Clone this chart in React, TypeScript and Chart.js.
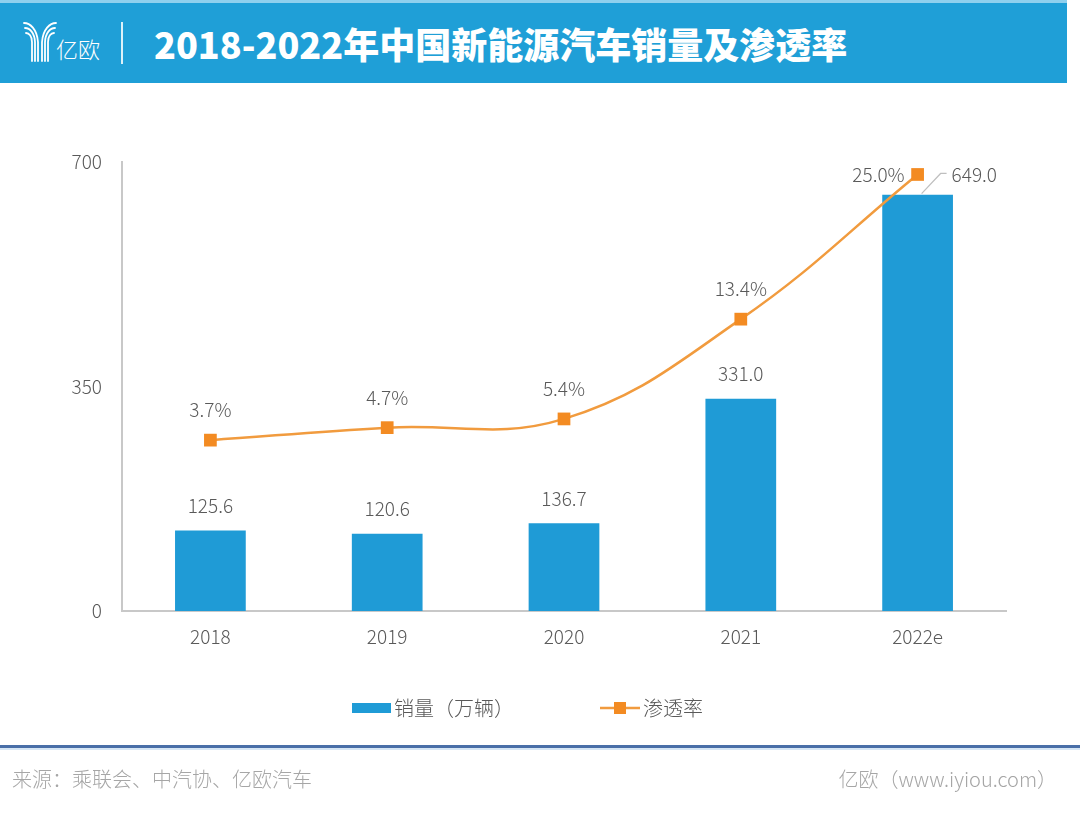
import React, { useEffect, useRef } from "react";
import { Chart, registerables } from "chart.js";

Chart.register(...registerables);

const categories = ["2018", "2019", "2020", "2021", "2022e"];
const salesValues = [125.6, 120.6, 136.7, 331.0, 649.0];
const rateValues = [3.7, 4.7, 5.4, 13.4, 25.0];
const yTicks = [0, 350, 700];
const salesLabel = "销量（万辆）";
const rateLabel = "渗透率";
const titleText = "2018-2022年中国新能源汽车销量及渗透率";
const sourceText = "来源：乘联会、中汽协、亿欧汽车";
const brandText = "亿欧（www.iyiou.com）";

const FONT = '"Noto Sans CJK SC", "Noto Sans", sans-serif';
const BAR = "#1F9BD6";
const LINE = "#F19B3E";
const MARK = "#F38B22";
const TXT = "#595959";

const labelPlugin = {
  id: "labels",
  afterDatasetsDraw(chart: any) {
    const ctx = chart.ctx;
    const barMeta = chart.getDatasetMeta(1);
    const lineMeta = chart.getDatasetMeta(0);
    ctx.save();
    ctx.font = `300 19px ${FONT}`;
    ctx.fillStyle = TXT;
    ctx.textBaseline = "middle";
    const n = categories.length;
    barMeta.data.forEach((el: any, i: number) => {
      const v = salesValues[i].toFixed(1);
      if (i === n - 1) {
        const py = lineMeta.data[i].y;
        ctx.strokeStyle = "#BFBFBF";
        ctx.lineWidth = 1.2;
        ctx.beginPath();
        ctx.moveTo(el.x + 4, el.y - 1);
        ctx.lineTo(el.x + 23, py - 1);
        ctx.lineTo(el.x + 29, py - 1);
        ctx.stroke();
        ctx.textAlign = "left";
        ctx.fillText(v, el.x + 34, py);
      } else {
        ctx.textAlign = "center";
        ctx.fillText(v, el.x, el.y - 25);
      }
    });
    lineMeta.data.forEach((el: any, i: number) => {
      const v = rateValues[i].toFixed(1) + "%";
      if (i === n - 1) {
        ctx.textAlign = "right";
        ctx.fillText(v, el.x - 13, el.y);
      } else {
        ctx.textAlign = "center";
        ctx.fillText(v, el.x, el.y - 30);
      }
    });
    ctx.restore();
  },
  afterDraw(chart: any) {
    const ctx = chart.ctx;
    ctx.save();
    ctx.font = `300 20px ${FONT}`;
    ctx.fillStyle = TXT;
    ctx.textBaseline = "middle";
    ctx.textAlign = "left";
    const ly = 708;
    ctx.fillStyle = BAR;
    ctx.fillRect(352, ly - 5, 39, 10);
    ctx.fillStyle = TXT;
    ctx.fillText(salesLabel, 394, ly);
    ctx.strokeStyle = LINE;
    ctx.lineWidth = 2.5;
    ctx.beginPath();
    ctx.moveTo(600, ly);
    ctx.lineTo(640, ly);
    ctx.stroke();
    ctx.fillStyle = MARK;
    ctx.fillRect(614, ly - 6, 12, 12);
    ctx.fillStyle = TXT;
    ctx.fillText(rateLabel, 643, ly);
    ctx.restore();
  },
};

function ChartCanvas() {
  const ref = useRef<HTMLCanvasElement | null>(null);
  useEffect(() => {
    if (!ref.current) return;
    const chart = new Chart(ref.current, {
      type: "bar",
      data: {
        labels: categories,
        datasets: [
          {
            type: "line",
            label: rateLabel,
            data: rateValues,
            yAxisID: "y1",
            borderColor: LINE,
            borderWidth: 2.5,
            backgroundColor: MARK,
            pointBackgroundColor: MARK,
            pointBorderColor: MARK,
            pointStyle: "rect",
            pointRadius: 9,
            pointBorderWidth: 0,
            tension: 0.4,
            order: 0,
            clip: false,
          } as any,
          {
            type: "bar",
            label: salesLabel,
            data: salesValues,
            yAxisID: "y",
            backgroundColor: BAR,
            barPercentage: 0.8,
            categoryPercentage: 0.5,
            order: 1,
          },
        ],
      },
      options: {
        responsive: false,
        animation: false,
        devicePixelRatio: 1,
        layout: { padding: { left: 0, right: 74, top: 162, bottom: 146 } },
        plugins: {
          legend: { display: false },
          tooltip: { enabled: false },
          title: { display: false },
        },
        scales: {
          x: {
            grid: { display: false, drawTicks: false },
            border: { display: true, color: "#C8C8C8", width: 2 },
            ticks: {
              color: TXT,
              font: { family: FONT, size: 19, weight: 300 as any },
              padding: 14,
            },
            afterFit(scale: any) {
              scale.height = 60;
            },
          },
          y: {
            position: "left",
            min: 0,
            max: 700,
            afterBuildTicks(scale: any) {
              scale.ticks = yTicks.map((v) => ({ value: v }));
            },
            grid: { display: false, drawTicks: false },
            border: { display: true, color: "#C8C8C8", width: 2 },
            ticks: {
              color: TXT,
              font: { family: FONT, size: 19, weight: 300 as any },
              padding: 20,
            },
            afterFit(scale: any) {
              scale.width = 122;
            },
          },
          y1: {
            position: "right",
            display: false,
            min: -10,
            max: 26,
          },
        },
      },
      plugins: [labelPlugin],
    });
    return () => chart.destroy();
  }, []);
  return (
    <canvas
      ref={ref}
      width={1080}
      height={817}
      style={{ position: "absolute", left: 0, top: 0, width: 1080, height: 817 }}
    />
  );
}

export default function App() {
  return (
    <div
      style={{
        position: "absolute",
        left: 0,
        top: 0,
        width: 1080,
        height: 817,
        background: "#FFFFFF",
        overflow: "hidden",
        fontFamily: FONT,
      }}
    >
      <ChartCanvas />
      <div
        style={{
          position: "absolute",
          left: 0,
          top: 0,
          width: 1067,
          height: 3,
          background: "#8FD0EE",
        }}
      />
      <div
        style={{
          position: "absolute",
          left: 0,
          top: 3,
          width: 1067,
          height: 80,
          background: "#1F9FD7",
        }}
      >
        <svg
          width={40}
          height={44}
          viewBox="0 0 40 44"
          style={{ position: "absolute", left: 22, top: 17 }}
        >
          <g fill="none" stroke="#FFFFFF" strokeWidth={1.8} strokeLinecap="round">
            <path d="M2 3 C8 3 15 9 16 22 L16 41" />
            <path d="M3 8 C8 8 12.5 13 13 22 L13 41" />
            <path d="M4 13 C7 13 10 16 10 22 L10 41" />
            <path d="M34 3 C28 3 21 9 20 22 L20 41" />
            <path d="M33 8 C28 8 23.5 13 23 22 L23 41" />
            <path d="M32 13 C29 13 26 16 26 22 L26 41" />
          </g>
        </svg>
        <div
          style={{
            position: "absolute",
            left: 56,
            top: 32,
            color: "#FFFFFF",
            fontSize: 22,
            fontWeight: 300,
            lineHeight: "26px",
            whiteSpace: "nowrap",
          }}
        >
          亿欧
        </div>
        <div
          style={{
            position: "absolute",
            left: 121,
            top: 19,
            width: 1.5,
            height: 42,
            background: "rgba(255,255,255,0.85)",
          }}
        />
        <div
          style={{
            position: "absolute",
            left: 154,
            top: 17,
            color: "#FFFFFF",
            fontSize: 36,
            fontWeight: 900,
            lineHeight: "46px",
            whiteSpace: "nowrap",
          }}
        >
          {titleText}
        </div>
      </div>
      <div
        style={{
          position: "absolute",
          left: 0,
          top: 745,
          width: 1080,
          height: 3,
          background: "#4A6FA8",
        }}
      />
      <div
        style={{
          position: "absolute",
          left: 0,
          top: 748,
          width: 1080,
          height: 2,
          background: "#D6E6F5",
        }}
      />
      <div
        style={{
          position: "absolute",
          left: 12,
          top: 765,
          color: "#A6A6A6",
          fontSize: 20,
          fontWeight: 300,
          lineHeight: "28px",
          whiteSpace: "nowrap",
        }}
      >
        {sourceText}
      </div>
      <div
        style={{
          position: "absolute",
          right: 23,
          top: 765,
          color: "#A6A6A6",
          fontSize: 20,
          fontWeight: 300,
          lineHeight: "28px",
          whiteSpace: "nowrap",
        }}
      >
        {brandText}
      </div>
    </div>
  );
}
